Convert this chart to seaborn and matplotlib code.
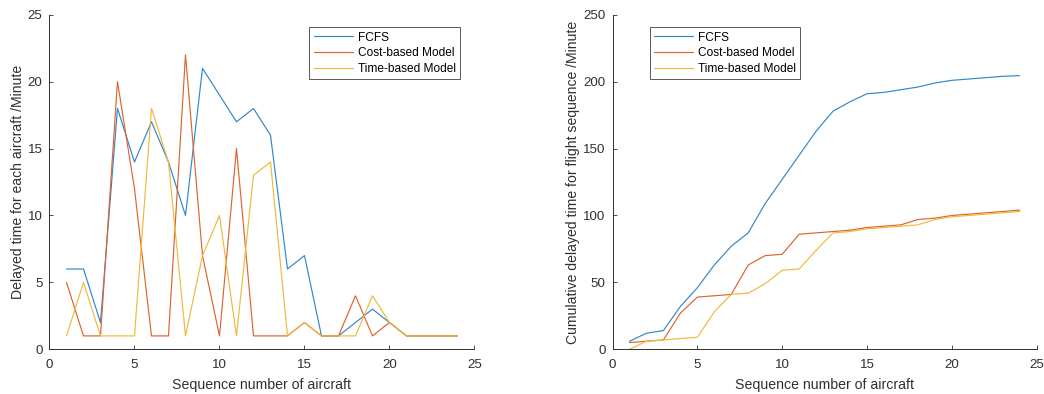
import numpy as np
import pandas as pd
import matplotlib
matplotlib.use("Agg")
import matplotlib.pyplot as plt
import seaborn as sns

# ---- data ----
seq = list(range(1, 25))
series_names = ["FCFS", "Cost-based Model", "Time-based Model"]

fcfs_delay = [6, 6, 2, 18, 14, 17, 14, 10, 21, 19, 17, 18, 16, 6, 7, 1, 1, 2, 3, 2, 1, 1, 1, 1]
cost_delay = [5, 1, 1, 20, 12, 1, 1, 22, 7, 1, 15, 1, 1, 1, 2, 1, 1, 4, 1, 2, 1, 1, 1, 1]
time_delay = [1, 5, 1, 1, 1, 18, 14, 1, 7, 10, 1, 13, 14, 1, 2, 1, 1, 1, 4, 2, 1, 1, 1, 1]

fcfs_cum = [6, 12, 14, 32, 46, 63, 77, 87, 109, 127, 145, 163, 178, 185, 191, 192, 194, 196, 199, 201, 202, 203, 204, 204.5]
cost_cum = [5, 6, 7, 27, 39, 40, 41, 63, 70, 71, 86, 87, 88, 89, 91, 92, 93, 97, 98, 100, 101, 102, 103, 104]
time_cum = [0, 6, 7, 8, 9, 28, 41, 42, 49, 59, 60, 74, 87, 88, 90, 91, 92, 93, 97, 99, 100, 101, 102, 103]

x_ticks_left = [0, 5, 10, 15, 20, 25]
y_ticks_left = [0, 5, 10, 15, 20, 25]
x_ticks_right = [0, 5, 10, 15, 20, 25]
y_ticks_right = [0, 50, 100, 150, 200, 250]

xlabel = "Sequence number of aircraft"
ylabel_left = "Delayed time for each aircraft /Minute"
ylabel_right = "Cumulative delayed time for flight sequence /Minute"

colors = ["#2F88CC", "#DE6330", "#EEBA3A"]

def long_df(a, b, c):
    return pd.DataFrame({
        "x": seq * 3,
        "y": a + b + c,
        "series": [series_names[0]] * len(a) + [series_names[1]] * len(b) + [series_names[2]] * len(c),
    })

df_left = long_df(fcfs_delay, cost_delay, time_delay)
df_right = long_df(fcfs_cum, cost_cum, time_cum)

# ---- style ----
sns.set_style("ticks")
plt.rcParams["font.family"] = ["Liberation Sans", "DejaVu Sans"]
axcol = "#303030"
plt.rcParams.update({
    "axes.edgecolor": axcol,
    "axes.labelcolor": axcol,
    "xtick.color": axcol,
    "ytick.color": axcol,
    "xtick.direction": "in",
    "ytick.direction": "in",
    "axes.linewidth": 0.7,
})

fig = plt.figure(figsize=(10.44, 3.94), dpi=100)
ax1 = fig.add_axes([0.0474, 0.1135, 0.4071, 0.849])
ax2 = fig.add_axes([0.5867, 0.1135, 0.4063, 0.849])

pal = dict(zip(series_names, colors))

for ax, df, yt, xt, yl, anchor, loc in [
    (ax1, df_left, y_ticks_left, x_ticks_left, ylabel_left, (0.966, 0.962), "upper right"),
    (ax2, df_right, y_ticks_right, x_ticks_right, ylabel_right, (0.088, 0.962), "upper left"),
]:
    sns.lineplot(data=df, x="x", y="y", hue="series", palette=pal,
                 hue_order=series_names, linewidth=0.85, ax=ax, legend=True,
                 estimator=None, sort=False)
    ax.set_xlim(xt[0], xt[-1])
    ax.set_ylim(yt[0], yt[-1])
    ax.set_xticks(xt)
    ax.set_yticks(yt)
    ax.tick_params(axis="both", labelsize=9.6, length=3, width=0.6)
    ax.tick_params(axis="x", pad=7)
    ax.tick_params(axis="y", pad=5)
    ax.set_xlabel(xlabel, fontsize=10.2, labelpad=5)
    ax.set_ylabel(yl, fontsize=10.1, labelpad=2)
    for s in ["top", "right"]:
        ax.spines[s].set_visible(False)
    handles, labels = ax.get_legend_handles_labels()
    leg = ax.legend(handles, labels, loc=loc, bbox_to_anchor=anchor,
                    fontsize=8.6, frameon=True, fancybox=False,
                    handlelength=3.3, handletextpad=0.4, labelspacing=0.3,
                    borderpad=0.35, borderaxespad=0)
    leg.get_frame().set_edgecolor("#303030")
    leg.get_frame().set_linewidth(0.7)
    for t in leg.get_texts():
        t.set_color("#000000")

fig.savefig("out.png", dpi=100)
